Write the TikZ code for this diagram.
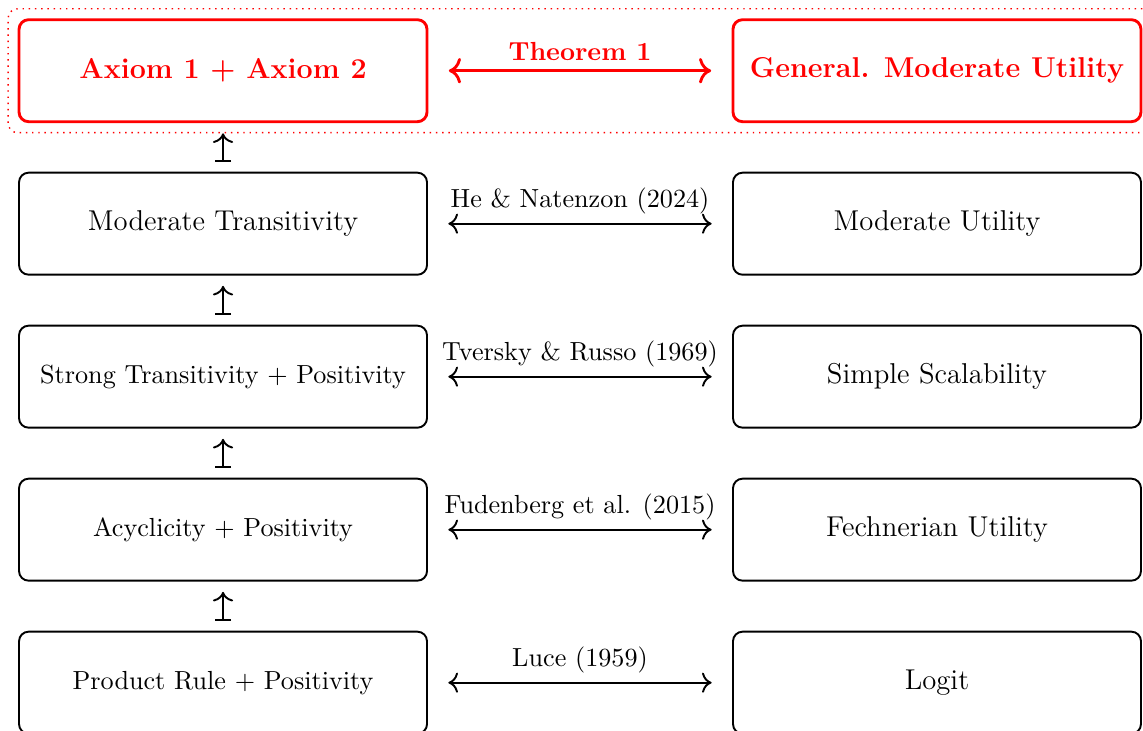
\documentclass[11pt,tikz,border=0pt]{standalone}
\usetikzlibrary{fit,arrows.meta}
\begin{document}
\begin{tikzpicture}[
    box/.style={draw,thick,rounded corners,minimum width=6cm,minimum height=1.5cm,font=\large},
    keybox/.style={box,red,very thick,font=\large\bfseries},
    equiv/.style={{To[scale=1.2]}-{To[scale=1.2]},thick,shorten <=0.3cm,shorten >=0.3cm},
    implies/.style={{Bar[scale=1.1]}-{To[scale=1.2]},thick,shorten <=0.15cm,shorten >=0.15cm}]
  \useasboundingbox (-3.28,-9.71) rectangle (13.53,1.04);
  % main result
  \node[keybox] (axioms) at (0,0) {Axiom 1 + Axiom 2};
  \node[keybox] (general) at (10.5,0) {General. Moderate Utility};
  % known characterizations
  \node[box] (modtrans) at (0,-2.25) {Moderate Transitivity};
  \node[box] (modutil) at (10.5,-2.25) {Moderate Utility};
  \node[box,font=\normalsize] (strong) at (0,-4.5) {Strong Transitivity + Positivity};
  \node[box] (scalab) at (10.5,-4.5) {Simple Scalability};
  \node[box,font=\normalsize] (acyc) at (0,-6.75) {Acyclicity + Positivity};
  \node[box] (fechner) at (10.5,-6.75) {Fechnerian Utility};
  \node[box,font=\normalsize] (product) at (0,-9) {Product Rule + Positivity};
  \node[box] (logit) at (10.5,-9) {Logit};
  \draw[equiv,red,very thick] (axioms) -- node[above,font=\bfseries] {Theorem 1} (general);
  \draw[equiv] (modtrans) -- node[above] {He \& Natenzon (2024)} (modutil);
  \draw[equiv] (strong) -- node[above] {Tversky \& Russo (1969)} (scalab);
  \draw[equiv] (acyc) -- node[above] {Fudenberg et al. (2015)} (fechner);
  \draw[equiv] (product) -- node[above] {Luce (1959)} (logit);
  \foreach \lower/\upper in {product/acyc,acyc/strong,strong/modtrans,modtrans/axioms}
    \draw[implies] (\lower) -- (\upper);
  \node[fit=(axioms)(general),draw,red,dotted,semithick,rounded corners,inner sep=0.14cm] (topframe) {};
\end{tikzpicture}
\end{document}
